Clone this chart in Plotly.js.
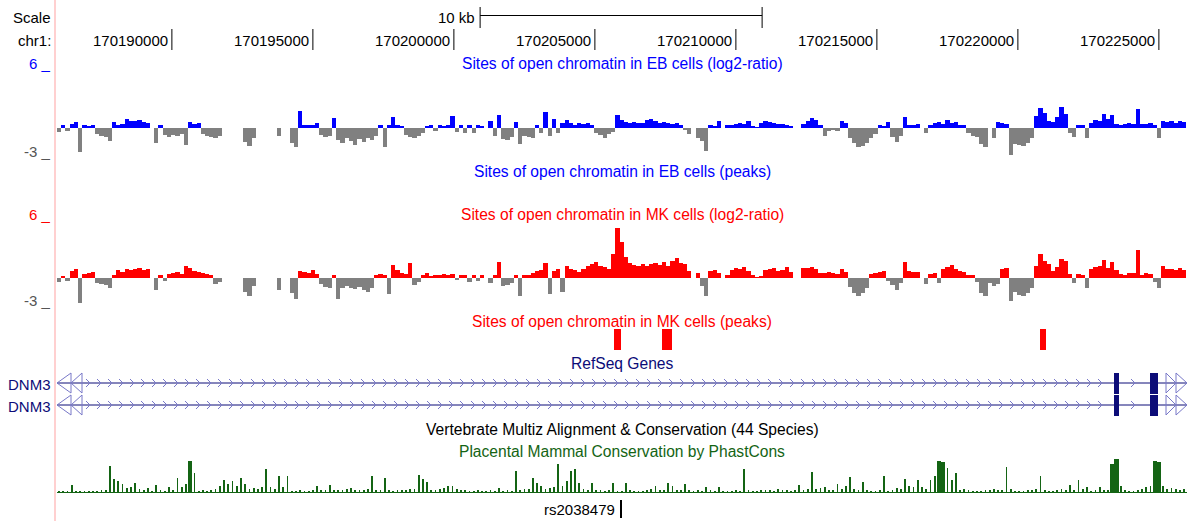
<!DOCTYPE html>
<html><head><meta charset="utf-8">
<script src="https://cdn.plot.ly/plotly-3.0.1.min.js"></script>
<style>html,body{margin:0;padding:0;background:#fff}#chart{width:1192px;height:521px}</style>
</head><body><div id="chart"></div>
<script>
// ---------------- DATA ----------------
const viewStart = 170185926, viewEnd = 170225997;
const rulerTicks = [170190000,170195000,170200000,170205000,170210000,170215000,170220000,170225000];
const rulerLabels = ["170190000","170195000","170200000","170205000","170210000","170215000","170220000","170225000"];
const scaleBarStart = 170200930, scaleBarEnd = 170210930;
const scaleBarLabel = "10 kb";
const binStart = 170185925, binSize = 150;

const ebLog2 = [-0.4,0.4,-0.3,0.5,0.7,-2.5,0.3,0.2,0.3,-0.6,-0.8,-0.9,-1.3,0.7,0.3,0.5,1.0,0.8,0.8,0.9,
0.7,0.6,null,-1.5,0.3,-0.7,-0.9,-0.7,-0.8,-0.6,-1.7,0.7,0.5,0.6,-0.6,-0.8,-0.9,-1.0,-0.8,null,
null,null,null,null,-1.4,-1.8,-1.0,null,null,null,null,null,-0.8,null,null,-1.5,-2.0,1.8,0.4,0.35,
0.3,0.6,-0.7,-0.9,-0.8,1.1,-1.2,-1.5,-1.0,-1.3,-1.7,-1.1,-1.4,-1.0,-1.2,-0.8,0.4,-2.0,0.4,1.2,
0.4,0.2,-0.7,-0.9,-1.0,-0.8,-0.5,0.2,0.3,-0.3,0.3,0.2,0.3,1.3,-0.4,0.3,-0.5,0.3,-0.5,0.3,
0.2,null,0.8,-0.8,1.4,-1.1,-1.2,-0.9,0.7,-1.6,-0.8,-0.9,-1.0,0.4,-0.5,1.7,-0.8,1.0,-0.5,0.6,
0.9,0.6,0.4,0.6,0.5,0.6,0.4,-0.5,-0.7,-1.0,-0.6,-0.4,1.4,0.9,0.7,0.6,0.7,0.6,0.6,0.9,
1.0,0.8,0.6,0.7,0.6,0.5,0.6,0.3,-0.2,-0.6,null,-1.0,-1.3,-2.4,0.3,0.2,0.8,null,0.3,0.4,
0.5,0.6,0.5,0.8,0.2,0.1,0.6,0.8,0.7,0.6,0.5,0.5,0.3,0.2,null,null,0.5,0.8,1.1,0.9,
0.3,-0.8,-0.3,-0.2,-0.3,0.8,0.6,-1.0,-1.5,-2.0,-1.8,-1.5,-1.0,-0.6,0.3,0.2,0.7,-0.9,-1.4,-0.8,
1.2,0.4,0.3,0.5,null,-0.5,0.3,0.6,0.7,0.5,0.9,0.6,0.7,0.4,0.3,-0.5,-0.8,-0.9,-1.6,-2.0,
null,-1.0,0.7,0.6,0.5,-2.8,-1.6,-1.7,-1.9,-1.5,-1.0,1.3,2.1,1.6,0.8,0.7,1.2,2.2,1.5,-0.5,
-0.9,0.3,0.4,-1.0,0.6,0.9,0.8,1.5,1.0,1.4,0.5,0.4,0.5,0.6,0.5,2.0,0.5,0.5,0.6,0.4,
-1.0,0.8,0.7,0.8,0.6,0.8,0.7];

const mkLog2 = [-0.4,0.2,-0.3,0.8,1.0,-2.6,0.5,0.6,0.7,-0.5,-0.6,-0.7,-1.0,0.3,0.9,0.7,1.0,0.9,1.0,1.1,
0.9,1.0,null,-1.2,0.3,-0.3,0.5,0.6,0.7,0.5,1.3,1.1,0.8,0.7,0.6,0.5,0.4,-0.6,-0.4,null,
null,null,null,null,-1.4,-1.9,-0.8,null,null,null,null,null,-1.2,null,null,-1.5,-2.2,0.8,0.7,0.6,
0.9,0.5,-0.6,-0.9,-1.0,0.4,-2.2,-1.0,-0.8,-1.0,-1.1,-0.9,-1.2,-1.4,-1.0,0.4,0.5,0.3,-1.6,1.4,
0.9,0.6,0.5,1.6,-0.7,-0.4,0.3,0.6,0.2,0.3,0.4,0.5,0.4,0.5,-0.2,0.3,0.3,-0.4,0.3,-0.3,
0.3,null,-0.5,0.4,1.7,-0.8,-0.7,-0.5,0.3,-1.9,0.3,0.4,0.6,0.8,0.9,1.6,-1.6,0.8,1.0,-1.4,
1.3,1.0,0.9,0.7,1.0,1.3,1.5,1.7,1.3,1.2,1.0,2.5,5.3,3.8,2.2,1.6,1.4,1.3,1.5,1.3,
1.5,1.6,1.4,1.7,1.3,1.8,2.1,1.6,1.5,0.8,null,0.6,-0.8,-1.8,0.8,0.9,0.6,null,0.4,0.9,
1.1,1.0,1.2,0.8,0.3,0.1,0.2,0.9,1.0,1.1,0.8,0.9,1.2,0.7,null,null,1.1,1.1,1.2,1.0,
0.6,0.6,0.7,0.6,0.5,1.0,0.7,-0.9,-1.5,-1.9,-1.5,-1.0,0.5,0.6,0.7,0.8,-0.3,-0.7,-1.2,-0.5,
1.7,0.8,0.7,0.7,null,-0.6,0.5,0.6,-0.5,1.0,1.2,1.4,1.0,0.8,0.7,0.4,0.3,-0.4,-1.5,-1.8,
-0.5,-0.8,-0.6,1.0,1.1,-2.4,-1.4,-1.7,-1.8,-1.5,-1.0,1.3,2.5,1.8,1.5,0.8,1.2,2.0,1.8,0.5,
-0.5,0.5,0.4,-1.0,1.0,1.2,1.3,1.9,1.1,1.7,0.9,0.5,0.4,0.6,0.6,3.0,0.3,0.6,0.5,-0.4,
-1.0,1.3,1.0,1.0,0.9,1.1,0.9];

const mkPeakStarts = [170205670, 170207380, 170220780];
const mkPeakEnds   = [170205920, 170207730, 170220990];

const geneNames = ["DNM3", "DNM3"];
const exonStarts = [170223400, 170224680];
const exonEnds   = [170223585, 170224965];

const phastCons = [0.02,0.02,0.03,0.23,0.02,0.02,0.03,0.03,0.02,0.03,0.05,0.08,0.83,0.4,0.35,0.25,0.12,0.15,0.3,0.1,
0.08,0.12,0.03,0.22,0.05,0.03,0.17,0.05,0.45,0.15,0.25,1.0,0.6,0.03,0.05,0.03,0.05,0.1,0.2,0.37,
0.25,0.34,0.2,0.45,0.25,0.1,0.12,0.1,0.15,0.72,0.15,0.1,0.5,0.15,0.5,0.02,0.03,0.05,0.03,0.03,
0.05,0.2,0.08,0.05,0.23,0.05,0.08,0.05,0.1,0.12,0.08,0.05,0.05,0.1,0.5,0.05,0.05,0.45,0.05,0.03,
0.05,0.08,0.05,0.1,0.1,0.55,0.4,0.33,0.05,0.05,0.1,0.12,0.2,0.18,0.1,0.05,0.05,0.03,0.03,0.05,
0.03,0.03,0.05,0.03,0.12,0.03,0.05,0.03,0.66,0.05,0.1,0.1,0.45,0.28,0.2,0.1,0.12,0.15,0.88,0.2,
0.35,0.66,0.74,0.3,0.1,0.05,0.3,0.05,0.05,0.03,0.05,0.28,0.03,0.03,0.28,0.05,0.03,0.03,0.03,0.05,
0.1,0.2,0.05,0.05,0.28,0.2,0.05,0.08,0.26,0.05,0.03,0.05,0.03,0.17,0.05,0.03,0.15,0.03,0.03,0.03,
0.05,0.03,0.74,0.05,0.03,0.03,0.05,0.08,0.05,0.03,0.1,0.05,0.05,0.03,0.05,0.23,0.08,0.1,0.63,0.1,
0.12,0.17,0.05,0.05,0.26,0.1,0.2,0.48,0.1,0.05,0.32,0.05,0.03,0.03,0.05,0.5,0.03,0.05,0.12,0.1,
0.41,0.2,0.17,0.39,0.15,0.1,0.39,0.5,1.0,0.95,0.75,0.38,0.6,0.05,0.1,0.05,0.03,0.03,0.03,0.08,
0.05,0.1,0.05,0.05,0.8,0.1,0.03,0.03,0.03,0.05,0.05,0.1,0.5,0.05,0.03,0.03,0.05,0.1,0.05,0.23,
0.05,0.37,0.1,0.17,0.03,0.05,0.17,0.05,0.05,0.9,1.05,0.2,0.05,0.03,0.03,0.05,0.1,0.15,0.2,1.0,
0.95,0.2,0.1,0.12,0.1,0.05,0.1];

const snpName = "rs2038479";
const snpPos = 170205926;

// ---------------- GEOMETRY / STYLE ----------------
const W = 1192, H = 521, PL = 57, PR = 1187;
const pxPerBp = (PR - PL) / (viewEnd - viewStart);
const bpPx = px => viewStart + (px - PL) / pxPerBp;   // pixel column -> genome position
const fx = px => (px - PL) / (PR - PL);              // pixel -> paper x
const fy = py => 1 - py / H;                          // pixel -> paper y
const FONT = "Liberation Sans, Arial, Helvetica, sans-serif";
const FS = 15.6;
const BLUE = "rgb(0,0,255)", RED = "rgb(255,0,0)", GRAY = "rgb(128,128,128)";
const NAVY = "rgb(12,12,120)", CHEV = "rgb(120,120,200)", GREEN = "rgb(20,100,20)";

const centers = arr => arr.map((_, i) => binStart + binSize * (i + 0.5));
const traces = [];

// EB log2 ratio
traces.push({type: "bar", x: centers(ebLog2), y: ebLog2, width: binSize, xaxis: "x", yaxis: "y",
  marker: {color: ebLog2.map(v => v >= 0 ? BLUE : GRAY), line: {width: 0}}, hoverinfo: "x+y"});
// MK log2 ratio
traces.push({type: "bar", x: centers(mkLog2), y: mkLog2, width: binSize, xaxis: "x", yaxis: "y2",
  marker: {color: mkLog2.map(v => v >= 0 ? RED : GRAY), line: {width: 0}}, hoverinfo: "x+y"});
// MK peaks
traces.push({type: "bar", x: mkPeakStarts.map((s, i) => (s + mkPeakEnds[i]) / 2),
  width: mkPeakStarts.map((s, i) => mkPeakEnds[i] - s), y: mkPeakStarts.map(() => 1), base: 0,
  xaxis: "x", yaxis: "y3", marker: {color: RED, line: {width: 0}}});

// Genes
const levels = [37, 15];
levels.forEach((lv, t) => {
  traces.push({type: "scatter", mode: "lines", x: [viewStart, viewEnd], y: [lv, lv], xaxis: "x", yaxis: "y4",
    line: {color: NAVY, width: 1}, hoverinfo: "skip"});
  const cx = [], cy = [];
  const d = 4 / pxPerBp;
  for (let px = 90; px < 1166; px += 11) {
    const p = bpPx(px);
    if (exonStarts.some((s, i) => p > s - 5 / pxPerBp && p < exonEnds[i] + 7 / pxPerBp)) continue;
    cx.push(p - d, p, p - d, null); cy.push(lv + 4, lv, lv - 4, null);
  }
  traces.push({type: "scatter", mode: "lines", x: cx, y: cy, xaxis: "x", yaxis: "y4",
    line: {color: CHEV, width: 1}, hoverinfo: "skip"});
  const tx = [], ty = [];
  [[57, 71], [71, 82], [1187, 1176], [1176, 1166]].forEach(([tip, base]) => {
    tx.push(bpPx(tip), bpPx(base), bpPx(base), bpPx(tip), null);
    ty.push(lv, lv + 10, lv - 10, lv, null);
  });
  traces.push({type: "scatter", mode: "lines", x: tx, y: ty, xaxis: "x", yaxis: "y4", cliponaxis: false,
    line: {color: CHEV, width: 1}, hoverinfo: "skip"});
  traces.push({type: "bar", x: exonStarts.map((s, i) => (s + exonEnds[i]) / 2),
    width: exonStarts.map((s, i) => exonEnds[i] - s), y: exonStarts.map(() => 21), base: lv - 10.5,
    xaxis: "x", yaxis: "y4", marker: {color: NAVY, line: {width: 0}}, name: geneNames[t]});
});

// Conservation (thin spikes; solid where fully conserved)
traces.push({type: "bar", x: centers(phastCons), y: phastCons,
  width: phastCons.map(v => v >= 0.9 ? binSize : binSize * 0.42), xaxis: "x", yaxis: "y5",
  marker: {color: GREEN, line: {width: 0}}});

// SNP
traces.push({type: "bar", x: [snpPos], y: [1], base: 0, width: 1.6 / pxPerBp, xaxis: "x", yaxis: "y6",
  marker: {color: "black", line: {width: 0}}});

// ---------------- LAYOUT ----------------
const ann = [];
const txt = (text, px, py, color, anchor, size) => ann.push({text, x: fx(px), y: fy(py), xref: "paper", yref: "paper",
  xanchor: anchor || "center", yanchor: "middle", showarrow: false, font: {family: FONT, size: size || FS, color}});
txt("Scale", 53, 18, "black", "right", 15);
txt("chr1:", 53, 41, "black", "right", 15);
rulerTicks.forEach((t, i) => ann.push({text: rulerLabels[i], x: t, xref: "x", y: fy(41), yref: "paper",
  xanchor: "right", yanchor: "middle", xshift: -2, showarrow: false, font: {family: FONT, size: 15, color: "black"}}));
ann.push({text: scaleBarLabel, x: scaleBarStart, xref: "x", y: fy(17), yref: "paper", xanchor: "right", yanchor: "middle",
  xshift: -3, showarrow: false, font: {family: FONT, size: 15, color: "black"}});
const MID = (PL + PR) / 2;
txt("Sites of open chromatin in EB cells (log2-ratio)", MID, 64, BLUE);
txt("Sites of open chromatin in EB cells (peaks)", MID, 171, BLUE);
txt("Sites of open chromatin in MK cells (log2-ratio)", MID, 214, RED);
txt("Sites of open chromatin in MK cells (peaks)", MID, 321, RED);
txt("RefSeq Genes", MID, 363, NAVY);
txt("Vertebrate Multiz Alignment &amp; Conservation (44 Species)", MID, 429, "black");
txt("Placental Mammal Conservation by PhastCons", MID, 451, GREEN);
txt("6 _", 53, 64, BLUE, "right", 15);
txt("-3 _", 53, 151, "rgb(85,85,85)", "right", 15);
txt("6 _", 53, 214, RED, "right", 15);
txt("-3 _", 53, 300, "rgb(85,85,85)", "right", 15);
txt(geneNames[0], 53, 384, NAVY, "right", 15);
txt(geneNames[1], 53, 406, NAVY, "right", 15);
ann.push({text: snpName, x: snpPos, xref: "x", y: fy(509), yref: "paper", xanchor: "right", yanchor: "middle",
  xshift: -4, showarrow: false, font: {family: FONT, size: 15, color: "black"}});

const shapes = [];
shapes.push({type: "line", xref: "paper", yref: "paper", x0: fx(55), x1: fx(55), y0: 0, y1: 1,
  line: {color: "rgb(255,208,208)", width: 2}});
rulerTicks.forEach(t => shapes.push({type: "line", xref: "x", yref: "paper", x0: t, x1: t, y0: fy(29), y1: fy(50),
  line: {color: "black", width: 1}}));
shapes.push({type: "line", xref: "x", yref: "paper", x0: scaleBarStart, x1: scaleBarEnd, y0: fy(15.5), y1: fy(15.5), line: {color: "black", width: 1}});
shapes.push({type: "line", xref: "x", yref: "paper", x0: scaleBarStart, x1: scaleBarStart, y0: fy(7), y1: fy(28), line: {color: "black", width: 1}});
shapes.push({type: "line", xref: "x", yref: "paper", x0: scaleBarEnd, x1: scaleBarEnd, y0: fy(7), y1: fy(28), line: {color: "black", width: 1}});

const hidden = extra => Object.assign({visible: false, fixedrange: true, anchor: "x"}, extra);
const layout = {
  width: W, height: H, margin: {l: PL, r: W - PR, t: 0, b: 0, pad: 0},
  paper_bgcolor: "white", plot_bgcolor: "white", showlegend: false, barmode: "overlay", bargap: 0,
  xaxis: {range: [viewStart, viewEnd], visible: false, fixedrange: true, anchor: "y"},
  yaxis: hidden({range: [-3, 6], domain: [fy(157), fy(71)]}),
  yaxis2: hidden({range: [-3, 6], domain: [fy(307), fy(221)]}),
  yaxis3: hidden({range: [0, 1], domain: [fy(350), fy(329)]}),
  yaxis4: hidden({range: [0, 50], domain: [fy(420), fy(370)]}),
  yaxis5: {range: [-0.03, 1.05], domain: [fy(493), fy(459)], anchor: "x", fixedrange: true, showgrid: false,
    showticklabels: false, ticks: "", showline: false, zeroline: true, zerolinecolor: GREEN, zerolinewidth: 1},
  yaxis6: hidden({range: [0, 1], domain: [fy(518), fy(500)]}),
  annotations: ann, shapes: shapes
};
Plotly.newPlot("chart", traces, layout, {displayModeBar: false, staticPlot: true});
</script></body></html>
